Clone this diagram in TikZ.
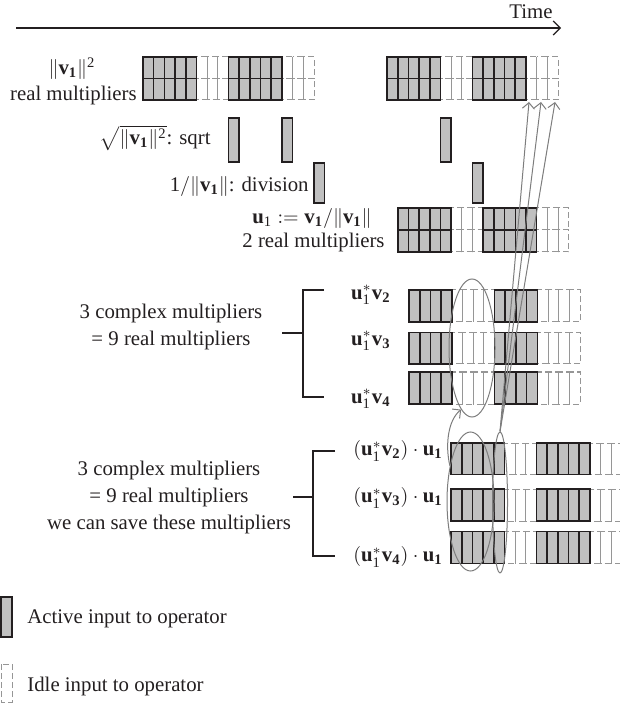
\documentclass[tikz,border=0pt]{standalone}
\usepackage{amsmath}
\usepackage{fontspec}
\setmainfont{Liberation Serif}
\usetikzlibrary{arrows.meta,shapes.geometric}
\definecolor{cellfill}{RGB}{192,192,192}
\definecolor{idle}{RGB}{150,150,150}
\definecolor{ann}{RGB}{125,125,125}
\definecolor{ink}{RGB}{35,31,32}
% run of cells: x, y-top, count, height, style
\newcommand\cellrun[5]{\foreach \k in {1,...,#3}{\path[#5] ({#1+(\k-1)*10.69},#2) rectangle ++(10.69,#4);}}
\begin{document}
\begin{tikzpicture}[x=0.5pt,y=-0.5pt,
  font=\fontsize{10.4}{13.5}\selectfont, text=ink,
  active/.style={draw=ink, line width=0.8pt, fill=cellfill},
  idlecell/.style={draw=idle, line width=0.5pt, dash pattern=on 3pt off 1.5pt},
  lbl/.style={inner sep=0pt},
  oval/.style={ellipse, draw=ann, line width=0.5pt, inner sep=0pt},
  annarrow/.style={draw=ann, line width=0.5pt, -{Straight Barb[length=3pt,width=6pt]}},
  brk/.style={draw=ink, line width=0.6pt},
]
\useasboundingbox (0,0) rectangle (619,704);

% time axis
\coordinate (t0) at (16,28);
\coordinate (t1) at (561,28);
\draw[draw=ink, line width=0.6pt, -{Straight Barb[length=3.5pt,width=7pt]}] (t0) -- (t1);
\node[lbl, anchor=east] (time) at (553,12) {Time};

% ---- row 1: ||v1||^2 (two sub-rows)
\foreach \yy in {57,78.5}{
  \cellrun{196.45}{\yy}{3}{21.5}{idlecell}
  \cellrun{281.97}{\yy}{3}{21.5}{idlecell}
  \cellrun{440.45}{\yy}{3}{21.5}{idlecell}
  \cellrun{525.97}{\yy}{3}{21.5}{idlecell}
  \cellrun{143}{\yy}{5}{21.5}{active}
  \cellrun{228.52}{\yy}{5}{21.5}{active}
  \cellrun{387}{\yy}{5}{21.5}{active}
  \cellrun{472.52}{\yy}{5}{21.5}{active}
}
% ---- sqrt bars
\cellrun{228.52}{118}{1}{44}{active}
\cellrun{281.97}{118}{1}{44}{active}
\cellrun{440.45}{118}{1}{44}{active}
% ---- division bars
\cellrun{313.8}{163}{1}{40}{active}
\cellrun{472.5}{163}{1}{40}{active}
% ---- u1 row (two sub-rows)
\foreach \yy in {208,230}{
  \cellrun{451.15}{\yy}{3}{22}{idlecell}
  \cellrun{536.67}{\yy}{3}{22}{idlecell}
  \cellrun{397.7}{\yy}{5}{22}{active}
  \cellrun{483.22}{\yy}{5}{22}{active}
}
% ---- u1* v rows
\foreach \yy/\hh in {290/32,332.5/31.5,372/32}{
  \cellrun{451.76}{\yy}{4}{\hh}{idlecell}
  \cellrun{537.3}{\yy}{4}{\hh}{idlecell}
  \cellrun{409}{\yy}{4}{\hh}{active}
  \cellrun{494.53}{\yy}{4}{\hh}{active}
}
% ---- (u1* v) . u1 rows
\foreach \yy/\hh in {443/31.5,489/32,531.5/32}{
  \cellrun{504.45}{\yy}{3}{\hh}{idlecell}
  \cellrun{590}{\yy}{3}{\hh}{idlecell}
  \cellrun{451}{\yy}{5}{\hh}{active}
  \cellrun{536.5}{\yy}{5}{\hh}{active}
}

% ---- labels
\node[lbl] (n1) at (72,69) {$\|\textbf{v}_{\textbf{1}}\|^{\text{2}}$};
\node[lbl, anchor=east] (n1b) at (137,96) {real multipliers};
\node[lbl, anchor=east] (n2) at (211,138) {$\sqrt{\|\textbf{v}_{\textbf{1}}\|^{\text{2}}}$: sqrt};
\node[lbl, anchor=east] (n3) at (309,187) {$\text{1}/\|\textbf{v}_{\textbf{1}}\|$: division};
\node[lbl] (n4a) at (312,219) {$\textbf{u}_{\text{1}} := \textbf{v}_{\textbf{1}}/\|\textbf{v}_{\textbf{1}}\|$};
\node[lbl] (n4b) at (313.5,243) {2 real multipliers};

\node[lbl, align=center] (g1) at (171,327) {3 complex multipliers\\= 9 real multipliers};
\node[lbl, anchor=east] (p2) at (391,295) {$\textbf{u}_{\text{1}}^{*}\textbf{v}_{\textbf{2}}$};
\node[lbl, anchor=east] (p3) at (391,341) {$\textbf{u}_{\text{1}}^{*}\textbf{v}_{\textbf{3}}$};
\node[lbl, anchor=east] (p4) at (391,399) {$\textbf{u}_{\text{1}}^{*}\textbf{v}_{\textbf{4}}$};

\node[lbl, align=center] (g2) at (169,497) {3 complex multipliers\\= 9 real multipliers\\we can save these multipliers};
\node[lbl, anchor=east] (q2) at (443,451) {$(\textbf{u}_{\text{1}}^{*}\textbf{v}_{\textbf{2}})\cdot\textbf{u}_{\textbf{1}}$};
\node[lbl, anchor=east] (q3) at (443,498) {$(\textbf{u}_{\text{1}}^{*}\textbf{v}_{\textbf{3}})\cdot\textbf{u}_{\textbf{1}}$};
\node[lbl, anchor=east] (q4) at (443,557) {$(\textbf{u}_{\text{1}}^{*}\textbf{v}_{\textbf{4}})\cdot\textbf{u}_{\textbf{1}}$};

% ---- brackets
\draw[brk] (324,290) -- (303,290) -- (303,397) -- (324,397);
\draw[brk] (282,333) -- (303,333);
\draw[brk] (335,451) -- (313,451) -- (313,556) -- (335,556);
\draw[brk] (293,497) -- (313,497);

% ---- ellipses
\node[oval, minimum width=23pt, minimum height=69pt] (E1) at (472,348) {};
\node[oval, minimum width=23.5pt, minimum height=69.5pt] (E2) at (470.5,501.5) {};
\node[oval, minimum width=7.5pt, minimum height=70.5pt] (E3) at (500,502.5) {};

% ---- arrows
\draw[annarrow] (E2.120) .. controls (445,445) and (448,420) .. (E1.260);
\coordinate (a1) at (529,102);
\coordinate (a2) at (541,102);
\coordinate (a3) at (555,102);
\draw[annarrow] (E3.north) -- (a1);
\draw[annarrow] (E3.north) -- (a2);
\draw[annarrow] (E3.north) -- (a3);

% ---- legend
\path[active] (1,597) rectangle (12,637);
\node[lbl, anchor=west] (leg1) at (27,619) {Active input to operator};
\path[idlecell] (1,664) rectangle (12,702);
\node[lbl, anchor=west] (leg2) at (27,686) {Idle input to operator};
\end{tikzpicture}
\end{document}
